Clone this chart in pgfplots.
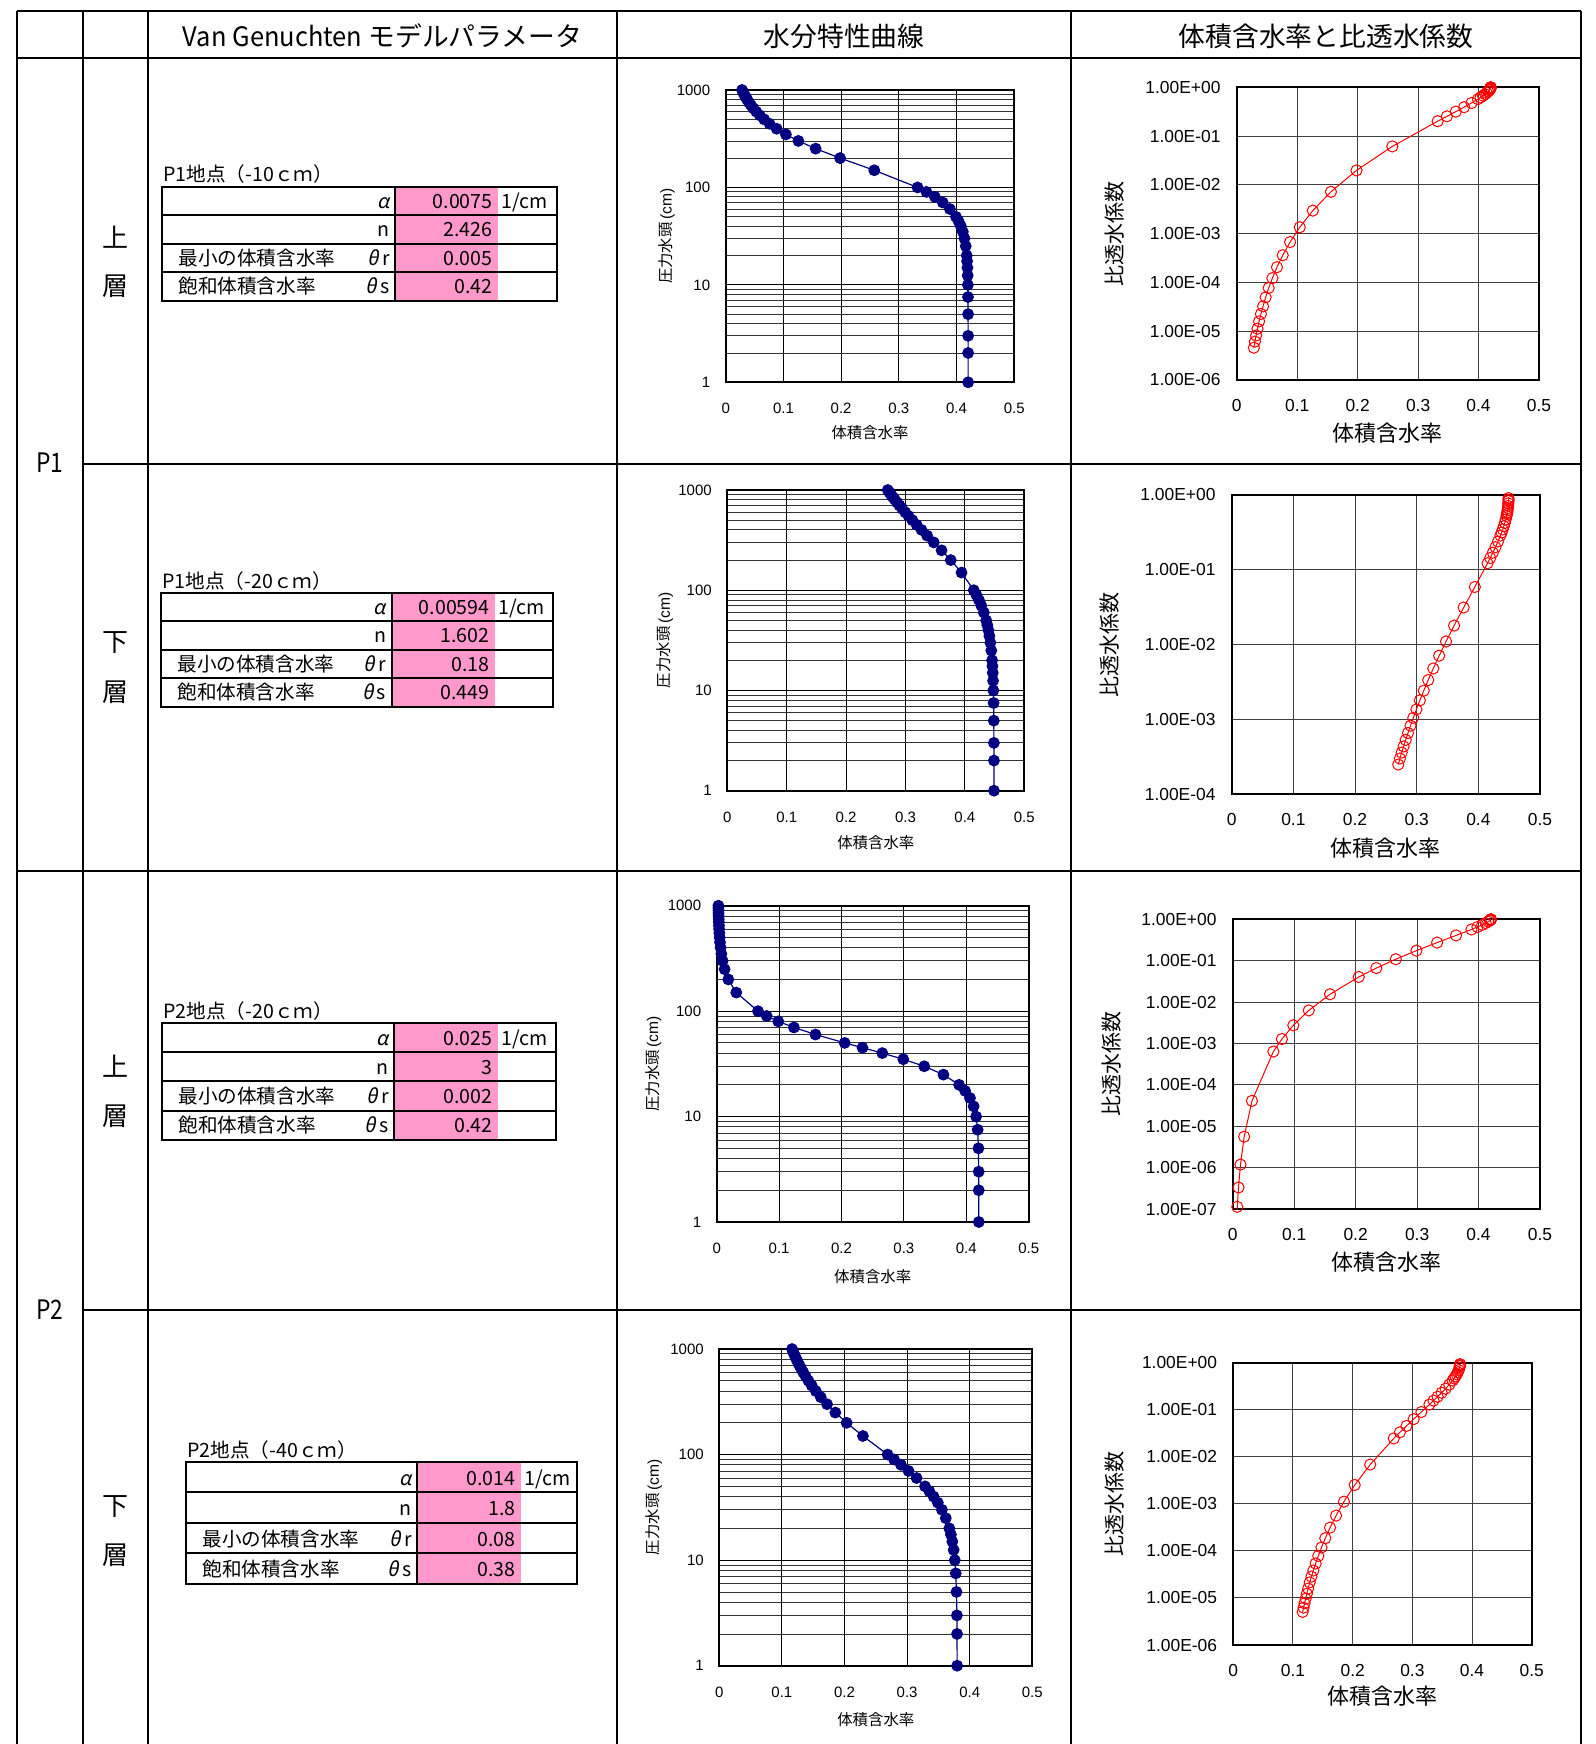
\documentclass[border=0pt]{standalone}
\usepackage{fontspec}
\setmainfont{Liberation Sans}
\newfontfamily\jp{Noto Sans CJK JP}
\newfontfamily\jpit[FakeSlant=0.2]{Noto Sans CJK JP}
\usepackage{graphicx}
\usepackage{pgfplots}
\pgfplotsset{compat=1.18}
\usepackage{pgfplotstable}
\definecolor{navy}{RGB}{0,0,128}
\definecolor{pinkc}{RGB}{255,153,204}
\newcommand\tfont{\jp\fontsize{9.8}{11}\selectfont}

% ---------------- data: h [cm], theta, relative permeability ----------------
\pgfplotstableread{
h th kr
1 0.42000 0.998
2 0.42000 0.995
3 0.42000 0.991
5 0.41992 0.9816
7.5 0.41977 0.9670
10 0.41955 0.9504
12.5 0.41922 0.9320
15 0.41879 0.9122
17.5 0.41824 0.8911
20 0.41757 0.8690
25 0.41585 0.8222
30 0.41360 0.7731
35 0.41078 0.7226
40 0.40739 0.6716
45 0.40344 0.6209
50 0.39895 0.5711
60 0.38843 0.4766
70 0.37611 0.3913
80 0.36238 0.3169
90 0.34764 0.2539
100 0.33232 0.2018
150 0.25739 0.06145
200 0.19814 0.01980
250 0.15582 0.007203
300 0.12589 0.002964
350 0.10429 0.001353
400 0.08828 6.737e-4
450 0.07607 3.614e-4
500 0.06658 2.054e-4
550 0.05901 1.224e-4
600 0.05286 7.702e-5
650 0.04781 4.955e-5
700 0.04360 3.238e-5
750 0.04003 2.260e-5
800 0.03700 1.592e-5
850 0.03438 1.126e-5
900 0.03210 8.175e-6
950 0.03011 6.123e-6
1000 0.02835 4.601e-6
}\PoneU

\pgfplotstableread{
h th kr
1 0.44897 0.9106
2 0.44892 0.8660
3 0.44884 0.8306
5 0.44864 0.7735
7.5 0.44831 0.7160
10 0.44791 0.6678
12.5 0.44744 0.6258
15 0.44693 0.5884
17.5 0.44636 0.5547
20 0.44574 0.5239
25 0.44439 0.4696
30 0.44289 0.4229
35 0.44126 0.3822
40 0.43953 0.3464
45 0.43772 0.3147
50 0.43582 0.2866
60 0.43186 0.2389
70 0.42772 0.2005
80 0.42349 0.1691
90 0.41921 0.1435
100 0.41491 0.1223
150 0.39430 0.05887
200 0.37614 0.03121
250 0.36067 0.01792
300 0.34758 0.01097
350 0.33646 0.007087
400 0.32692 0.004780
450 0.31867 0.003346
500 0.31148 0.002412
550 0.30514 0.001787
600 0.29953 0.001353
650 0.29450 0.0010444
700 0.28999 8.209e-4
750 0.28590 6.546e-4
800 0.28218 5.295e-4
850 0.27878 4.333e-4
900 0.27565 3.582e-4
950 0.27278 2.984e-4
1000 0.27012 2.478e-4
}\PoneL

\pgfplotstableread{
h th
1 0.42000
2 0.41997
3 0.41988
5 0.41946
7.5 0.41817
10 0.41570
12.5 0.41171
15 0.40592
17.5 0.39818
20 0.38843
25 0.36336
30 0.33258
35 0.29896
40 0.26532
45 0.23365
50 0.20507
60 0.15827
70 0.12376
80 0.09861
90 0.08007
100 0.06618
150 0.03135
200 0.01863
250 0.01267
300 0.009418
350 0.007453
400 0.006178
450 0.005301
500 0.004674
550 0.004210
600 0.003858
650 0.003583
700 0.003365
750 0.003189
800 0.003045
850 0.002926
900 0.002826
950 0.002741
1000 0.002669
}\PtwoU

\pgfplotstableread{
h th kr
1 0.42000 0.99875
2 0.41997 0.99500
3 0.41988 0.98863
5 0.41946 0.9684
7.5 0.41817 0.9292
10 0.41570 0.8756
12.5 0.41171 0.8096
15 0.40592 0.7340
17.5 0.39818 0.6523
20 0.38843 0.5684
25 0.36336 0.4078
30 0.33258 0.2741
35 0.29896 0.1753
40 0.26532 0.10868
45 0.23365 0.06638
50 0.20507 0.04045
60 0.15827 0.01543
70 0.12376 0.006286
80 0.09861 0.002742
90 0.08007 0.0012804
100 0.06618 6.386e-4
150 0.03135 4.104e-5
200 0.01863 5.598e-6
250 0.01267 1.1835e-6
300 0.009418 3.314e-7
350 0.007453 1.1283e-7
400 0.006178 4.436e-8
}\PtwoUk

\pgfplotstableread{
h th kr
1 0.37994 0.9352
2 0.37979 0.8885
3 0.37956 0.8475
5 0.37890 0.7753
7.5 0.37772 0.6969
10 0.37621 0.6283
12.5 0.37439 0.5672
15 0.37230 0.5123
17.5 0.36997 0.4630
20 0.36743 0.4186
25 0.36181 0.3424
30 0.35565 0.2805
35 0.34912 0.2303
40 0.34236 0.1894
45 0.33549 0.1563
50 0.32861 0.1294
60 0.31512 0.08975
70 0.30225 0.06329
80 0.29023 0.04541
90 0.27911 0.03313
100 0.26889 0.02458
150 0.22939 0.006859
200 0.20341 0.002519
250 0.18536 0.0011142
300 0.17216 5.626e-4
350 0.16208 3.127e-4
400 0.15415 1.865e-4
450 0.14773 1.185e-4
500 0.14242 7.83e-5
550 0.13796 5.396e-5
600 0.13415 3.846e-5
650 0.13085 2.844e-5
700 0.12797 2.142e-5
750 0.12544 1.586e-5
800 0.12318 1.229e-5
850 0.12116 9.664e-6
900 0.11934 7.704e-6
950 0.11769 6.214e-6
1000 0.11618 5.068e-6
}\PtwoL

% ---------------- styles ----------------
\pgfplotsset{
 myaxbase/.style={scale only axis, anchor=south west,
   axis line style={line width=0.9pt},
   major tick length=0pt, minor tick length=0pt,
   xmin=0, xmax=0.5, xtick={0,0.1,0.2,0.3,0.4,0.5},
   xticklabels={0,0.1,0.2,0.3,0.4,0.5}},
 myret/.style={myaxbase, ymin=1, ymax=1000, ytick={1,10,100,1000},
   yticklabels={1,10,100,1000},
   minor ytick={2,3,4,5,6,7,8,9,20,30,40,50,60,70,80,90,200,300,400,500,600,700,800,900},
   xmajorgrids, ymajorgrids, yminorgrids,
   major grid style={black,line width=0.5pt},
   minor grid style={black!80,line width=0.4pt},
   ticklabel style={font=\fontsize{7.5}{8}\selectfont},
   xticklabel shift=7pt, yticklabel shift=4.25pt,
   label style={font=\jp\fontsize{7.7}{9}\selectfont},
   xlabel={体積含水率},
   ylabel={圧力水頭{\normalfont\fontsize{7.8}{9}\selectfont\,(cm)}}},
 mykr/.style={myaxbase, xmajorgrids, ymajorgrids,
   major grid style={black!75,line width=0.5pt},
   ticklabel style={font=\fontsize{8.7}{10}\selectfont},
   xticklabel shift=6.2pt, yticklabel shift=4.6pt,
   xlabel={体積含水率}, ylabel={比透水係数},
   xlabel style={font=\jp\fontsize{11}{12}\selectfont},
   ylabel style={font=\jp\fontsize{10.5}{12}\selectfont}},
}
\tikzset{
 retplot/.style={navy, line width=0.6pt, mark=*, mark size=2.65pt,
   mark options={fill=navy,draw=navy,solid}},
 krplot/.style={red, line width=0.5pt, mark=o, mark size=2.8pt,
   mark options={fill=white,draw=red,solid}},
}

% parameter table: #1 x0, #2 ytop, #3 xdiv, #4 xpinkend, #5 xright, #6 title
\newcommand\ptable[6]{%
 \pgfmathsetmacro\yA{#2}\pgfmathsetmacro\yB{#2+\rh}%
 \pgfmathsetmacro\yC{#2+2*\rh}\pgfmathsetmacro\yD{#2+3*\rh}%
 \pgfmathsetmacro\yE{#2+4*\rh}\pgfmathsetmacro\bo{\rh-7}%
 \fill[pinkc] (#3,\yA) rectangle (#4,\yE);
 \draw[line width=1pt] (#1,\yA) rectangle (#5,\yE);
 \draw[line width=1pt] (#1,\yB) -- (#5,\yB) (#1,\yC) -- (#5,\yC)
   (#1,\yD) -- (#5,\yD) (#3,\yA) -- (#3,\yE);
 \node[anchor=base west,inner sep=0,font=\tfont] at (#1+1,#2-5) {#6};
 \node[anchor=base east,inner sep=0,font=\tfont] at (#3-5,\yA+\bo) {{\jpit α}};
 \node[anchor=base east,inner sep=0,font=\tfont] at (#4-5,\yA+\bo) {\vA};
 \node[anchor=base west,inner sep=0,font=\tfont] at (#4+3,\yA+\bo) {1/cm};
 \node[anchor=base east,inner sep=0,font=\tfont] at (#3-5,\yB+\bo) {n};
 \node[anchor=base east,inner sep=0,font=\tfont] at (#4-5,\yB+\bo) {\vN};
 \node[anchor=base west,inner sep=0,font=\tfont] at (#1+16,\yC+\bo) {最小の体積含水率};
 \node[anchor=base east,inner sep=0,font=\tfont] at (#3-5,\yC+\bo) {{\jpit θ}\,r};
 \node[anchor=base east,inner sep=0,font=\tfont] at (#4-5,\yC+\bo) {\vR};
 \node[anchor=base west,inner sep=0,font=\tfont] at (#1+16,\yD+\bo) {飽和体積含水率};
 \node[anchor=base east,inner sep=0,font=\tfont] at (#3-5,\yD+\bo) {{\jpit θ}\,s};
 \node[anchor=base east,inner sep=0,font=\tfont] at (#4-5,\yD+\bo) {\vS};
}

\begin{document}
\begin{tikzpicture}
\path[use as bounding box] (0,0) rectangle (797.5pt,-872pt);
\begin{scope}[x=0.5pt,y=-0.5pt]
 \fill[white] (0,0) rectangle (1595,1744);
 \begin{scope}[line width=1pt]
  \draw (17,11) -- (1581,11);
  \draw (17,58) -- (1581,58);
  \draw (83,464) -- (1581,464);
  \draw (17,871) -- (1581,871);
  \draw (83,1310) -- (1581,1310);
  \foreach \x in {17,83,148,617,1071,1581} \draw (\x,11) -- (\x,1744);
 \end{scope}
 \node[font=\jp\fontsize{13.4}{15}\selectfont] at (382.5,36) {\scalebox{0.95}[1]{Van Genuchten} モデルパラメータ};
 \node[font=\jp\fontsize{13.4}{15}\selectfont] at (844,36) {水分特性曲線};
 \node[font=\jp\fontsize{13.4}{15}\selectfont] at (1326,36) {体積含水率と比透水係数};
 \node[font=\jp\fontsize{13.4}{15}\selectfont] at (50,463) {\scalebox{0.85}[1]{P1}};
 \node[font=\jp\fontsize{13.4}{15}\selectfont] at (50,1310) {\scalebox{0.85}[1]{P2}};
 \foreach \t/\yy in {上/237,層/286,下/643,層/692,上/1066,層/1116,下/1507,層/1555}
   \node[font=\jp\fontsize{13}{14}\selectfont] at (115,\yy) {\t};
 \def\rh{28.4}
 \def\vA{0.0075}\def\vN{2.426}\def\vR{0.005}\def\vS{0.42}
 \ptable{162}{187}{395}{498}{557}{P1地点（-10ｃｍ）}
 \def\vA{0.00594}\def\vN{1.602}\def\vR{0.18}\def\vS{0.449}
 \ptable{161}{593}{391.5}{495}{553}{P1地点（-20ｃｍ）}
 \def\rh{29.2}
 \def\vA{0.025}\def\vN{3}\def\vR{0.002}\def\vS{0.42}
 \ptable{162}{1023}{394}{498}{556}{P2地点（-20ｃｍ）}
 \def\rh{30.4}
 \def\vA{0.014}\def\vN{1.8}\def\vR{0.08}\def\vS{0.38}
 \ptable{186}{1462}{417}{521}{577}{P2地点（-40ｃｍ）}
\end{scope}

% ---------- row 1 ----------
\begin{axis}[ymode=log, myret, at={(362.85pt,-191.15pt)}, width=144.3pt, height=146.15pt,
  xlabel style={at={(axis description cs:0.5,-0.1734)},anchor=center},
  ylabel style={at={(axis description cs:-0.2044,0.5)},anchor=center}]
\addplot[retplot] table[x=th,y=h]{\PoneU};
\end{axis}
\begin{axis}[ymode=log, mykr, at={(618.35pt,-190pt)}, width=151.15pt, height=146.35pt,
  ymin=1e-6, ymax=1, ytick={1e-6,1e-5,1e-4,1e-3,1e-2,1e-1,1},
  yticklabels={1.00E-06,1.00E-05,1.00E-04,1.00E-03,1.00E-02,1.00E-01,1.00E+00},
  xlabel style={at={(axis description cs:0.5,-0.1811)},anchor=center},
  ylabel style={at={(axis description cs:-0.4026,0.5)},anchor=center}]
\addplot[krplot] table[x=th,y=kr]{\PoneU};
\end{axis}
% ---------- row 2 ----------
\begin{axis}[ymode=log, myret, at={(363.65pt,-395.35pt)}, width=148.5pt, height=150.35pt,
  xlabel style={at={(axis description cs:0.5,-0.1739)},anchor=center},
  ylabel style={at={(axis description cs:-0.2098,0.5)},anchor=center}]
\addplot[retplot] table[x=th,y=h]{\PoneL};
\end{axis}
\begin{axis}[ymode=log, mykr, at={(615.85pt,-397pt)}, width=154.15pt, height=149.5pt,
  ymin=1e-4, ymax=1, ytick={1e-4,1e-3,1e-2,1e-1,1},
  yticklabels={1.00E-04,1.00E-03,1.00E-02,1.00E-01,1.00E+00},
  xlabel style={at={(axis description cs:0.5,-0.1796)},anchor=center},
  ylabel style={at={(axis description cs:-0.3947,0.5)},anchor=center}]
\addplot[krplot] table[x=th,y=kr]{\PoneL};
\end{axis}
% ---------- row 3 ----------
\begin{axis}[ymode=log, myret, at={(358.35pt,-611pt)}, width=156pt, height=158.15pt,
  xlabel style={at={(axis description cs:0.5,-0.1729)},anchor=center},
  ylabel style={at={(axis description cs:-0.2032,0.5)},anchor=center}]
\addplot[retplot] table[x=th,y=h]{\PtwoU};
\end{axis}
\begin{axis}[ymode=log, mykr, at={(616.35pt,-604.5pt)}, width=153.65pt, height=144.85pt,
  ymin=1e-7, ymax=1, ytick={1e-7,1e-6,1e-5,1e-4,1e-3,1e-2,1e-1,1},
  yticklabels={1.00E-07,1.00E-06,1.00E-05,1.00E-04,1.00E-03,1.00E-02,1.00E-01,1.00E+00},
  xlabel style={at={(axis description cs:0.5,-0.1819)},anchor=center},
  ylabel style={at={(axis description cs:-0.3937,0.5)},anchor=center}]
\addplot[red, line width=0.5pt, no marks] table[x=th,y=kr]{\PtwoUk};
\addplot[krplot, only marks, skip coords between index={26}{27}] table[x=th,y=kr]{\PtwoUk};
\end{axis}
% ---------- row 4 ----------
\begin{axis}[ymode=log, myret, at={(359.65pt,-832.85pt)}, width=156.5pt, height=158.35pt,
  xlabel style={at={(axis description cs:0.5,-0.1715)},anchor=center},
  ylabel style={at={(axis description cs:-0.2086,0.5)},anchor=center}]
\addplot[retplot] table[x=th,y=h]{\PtwoL};
\end{axis}
\begin{axis}[ymode=log, mykr, at={(616.65pt,-822.5pt)}, width=149.2pt, height=141.15pt,
  ymin=1e-6, ymax=1, ytick={1e-6,1e-5,1e-4,1e-3,1e-2,1e-1,1},
  yticklabels={1.00E-06,1.00E-05,1.00E-04,1.00E-03,1.00E-02,1.00E-01,1.00E+00},
  xlabel style={at={(axis description cs:0.5,-0.1807)},anchor=center},
  ylabel style={at={(axis description cs:-0.3964,0.5)},anchor=center}]
\addplot[krplot] table[x=th,y=kr]{\PtwoL};
\end{axis}
\end{tikzpicture}
\end{document}
